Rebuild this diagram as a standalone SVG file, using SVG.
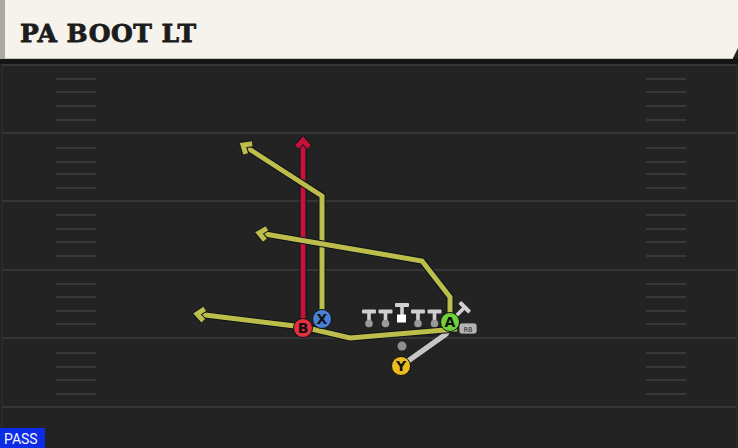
<svg xmlns="http://www.w3.org/2000/svg" width="738" height="448" viewBox="0 0 738 448">
<style>
.fl{stroke:#363636;stroke-width:2}
.hs{stroke:#383838;stroke-width:2}
.ol{fill:none;stroke:#0e1416;stroke-width:7;stroke-linejoin:miter;stroke-linecap:butt}
.yr{fill:none;stroke:#bdbd4c;stroke-width:5;stroke-linejoin:miter;stroke-linecap:butt}
.rr{fill:none;stroke:#c4123a;stroke-width:5;stroke-linecap:butt}
.gr{fill:none;stroke:#c6c6c6;stroke-width:5;stroke-linecap:round}
.lt{font-family:'DejaVu Sans',sans-serif;font-weight:bold;font-size:14px;fill:#111;text-anchor:middle}
.tb{fill:#cfcfcf}
.dot{fill:#9a9a9a}
</style>
<defs>
<marker id="ay" markerUnits="userSpaceOnUse" viewBox="-12 -10 16 20" markerWidth="16" markerHeight="20" refX="0" refY="0" orient="auto">
<path d="M-7,-6 L0,0 L-7,6" fill="none" stroke="#0e1416" stroke-width="7"/>
<path d="M-7,-6 L0,0 L-7,6" fill="none" stroke="#bdbd4c" stroke-width="5"/>
</marker>
<marker id="ar" markerUnits="userSpaceOnUse" viewBox="-12 -10 16 20" markerWidth="16" markerHeight="20" refX="0" refY="0" orient="auto">
<path d="M-7,-6 L0,0 L-7,6" fill="none" stroke="#0e1416" stroke-width="7"/>
<path d="M-7,-6 L0,0 L-7,6" fill="none" stroke="#c4123a" stroke-width="5"/>
</marker>
</defs>
<rect x="0" y="0" width="738" height="448" fill="#232323"/>
<rect x="0" y="58" width="738" height="6" fill="#151515"/>
<g id="field">
<line class="fl" x1="3" y1="65" x2="738" y2="65"/>
<line class="fl" x1="3" y1="133" x2="738" y2="133"/>
<line class="fl" x1="3" y1="201" x2="738" y2="201"/>
<line class="fl" x1="3" y1="270" x2="738" y2="270"/>
<line class="fl" x1="3" y1="338" x2="738" y2="338"/>
<line class="fl" x1="3" y1="407" x2="738" y2="407"/>
<line x1="2" y1="64" x2="2" y2="448" stroke="#2a2a2a" stroke-width="2"/>
<line x1="737" y1="64" x2="737" y2="448" stroke="#2a2a2a" stroke-width="2"/>
<g id="hashes-left">
<line class="hs" x1="56" y1="79" x2="96" y2="79"/><line class="hs" x1="56" y1="92" x2="96" y2="92"/><line class="hs" x1="56" y1="106" x2="96" y2="106"/><line class="hs" x1="56" y1="120" x2="96" y2="120"/>
<line class="hs" x1="56" y1="148" x2="96" y2="148"/><line class="hs" x1="56" y1="162" x2="96" y2="162"/><line class="hs" x1="56" y1="174" x2="96" y2="174"/><line class="hs" x1="56" y1="188" x2="96" y2="188"/>
<line class="hs" x1="56" y1="215" x2="96" y2="215"/><line class="hs" x1="56" y1="229" x2="96" y2="229"/><line class="hs" x1="56" y1="242" x2="96" y2="242"/><line class="hs" x1="56" y1="256" x2="96" y2="256"/>
<line class="hs" x1="56" y1="284" x2="96" y2="284"/><line class="hs" x1="56" y1="297" x2="96" y2="297"/><line class="hs" x1="56" y1="311" x2="96" y2="311"/><line class="hs" x1="56" y1="324" x2="96" y2="324"/>
<line class="hs" x1="56" y1="353" x2="96" y2="353"/><line class="hs" x1="56" y1="367" x2="96" y2="367"/><line class="hs" x1="56" y1="380" x2="96" y2="380"/><line class="hs" x1="56" y1="394" x2="96" y2="394"/>
</g>
<g id="hashes-right">
<line class="hs" x1="646" y1="79" x2="686" y2="79"/><line class="hs" x1="646" y1="92" x2="686" y2="92"/><line class="hs" x1="646" y1="106" x2="686" y2="106"/><line class="hs" x1="646" y1="120" x2="686" y2="120"/>
<line class="hs" x1="646" y1="148" x2="686" y2="148"/><line class="hs" x1="646" y1="162" x2="686" y2="162"/><line class="hs" x1="646" y1="174" x2="686" y2="174"/><line class="hs" x1="646" y1="188" x2="686" y2="188"/>
<line class="hs" x1="646" y1="215" x2="686" y2="215"/><line class="hs" x1="646" y1="229" x2="686" y2="229"/><line class="hs" x1="646" y1="242" x2="686" y2="242"/><line class="hs" x1="646" y1="256" x2="686" y2="256"/>
<line class="hs" x1="646" y1="284" x2="686" y2="284"/><line class="hs" x1="646" y1="297" x2="686" y2="297"/><line class="hs" x1="646" y1="311" x2="686" y2="311"/><line class="hs" x1="646" y1="324" x2="686" y2="324"/>
<line class="hs" x1="646" y1="353" x2="686" y2="353"/><line class="hs" x1="646" y1="367" x2="686" y2="367"/><line class="hs" x1="646" y1="380" x2="686" y2="380"/><line class="hs" x1="646" y1="394" x2="686" y2="394"/>
</g>
</g>
<g id="header">
<rect x="0" y="0" width="6" height="59" fill="#a9aaa6"/>
<path d="M5,0 H738 V48 L733,58 H5 Z" fill="#f6f3ec"/>
<line x1="5" y1="58.5" x2="733" y2="58.5" stroke="#c9c6bd" stroke-width="1"/>
<text x="20" y="42" font-family="'DejaVu Serif',serif" font-weight="bold" font-size="25" letter-spacing="0.5" fill="#1c1c1c" stroke="#1c1c1c" stroke-width="0.8">PA BOOT LT</text>
</g>
<g id="connectors">
<path class="gr" d="M401,366 L446,334 L450,326" stroke="#0e1416" stroke-width="7"/>
<path class="gr" d="M401,366 L446,334 L450,326"/>
<path class="ol" d="M457,329 L350,338 L303,327 L197,314"/>
<path class="yr" d="M457,329 L350,338 L303,327 L197,314" marker-end="url(#ay)"/>
<path class="ol" d="M303,328 V140"/>
<path class="rr" d="M303,328 V140" marker-end="url(#ar)"/>
<path class="ol" d="M322,319 V196 L243,145"/>
<path class="yr" d="M322,319 V196 L243,145" marker-end="url(#ay)"/>
<path class="ol" d="M450,322 V297 L422,261 L259,233"/>
<path class="yr" d="M450,322 V297 L422,261 L259,233" marker-end="url(#ay)"/>
</g>
<g id="linemen">
<g id="lt"><rect class="tb" x="362" y="309.5" width="14" height="4" rx="1"/><rect class="tb" x="367.2" y="312" width="3.6" height="10"/><circle class="dot" cx="369" cy="323.5" r="3.8"/></g>
<g id="lg"><rect class="tb" x="378.5" y="309.5" width="14" height="4" rx="1"/><rect class="tb" x="383.7" y="312" width="3.6" height="10"/><circle class="dot" cx="385.5" cy="323.5" r="3.8"/></g>
<g id="c"><rect class="tb" x="395" y="303" width="14" height="4" rx="1"/><rect class="tb" x="400.2" y="306" width="3.6" height="9"/><rect x="397" y="314.5" width="9" height="8" fill="#ffffff"/></g>
<g id="rg"><rect class="tb" x="411" y="309.5" width="14" height="4" rx="1"/><rect class="tb" x="416.2" y="312" width="3.6" height="10"/><circle class="dot" cx="418" cy="323.5" r="3.8"/></g>
<g id="rt"><rect class="tb" x="427.5" y="309.5" width="14" height="4" rx="1"/><rect class="tb" x="432.7" y="312" width="3.6" height="10"/><circle class="dot" cx="434.5" cy="323.5" r="3.8"/></g>
</g>
<g id="node-QB"><circle cx="402" cy="346" r="4.5" fill="#8e8e8e"/></g>
<g id="node-RB">
<g transform="translate(452,320) rotate(-45)"><rect x="0" y="-1.8" width="17" height="3.6" fill="#cfcfcf"/><rect x="16" y="-7" width="4" height="14" rx="1" fill="#cfcfcf"/></g>
<path d="M462,323 H474 Q477,323 477,326 V331 Q477,334 474,334 H462 Q459,334 459,331 V326 Q459,323 462,323 Z" fill="#b4b4b4" stroke="#2a2a2a" stroke-width="0.8"/>
<text x="468" y="331.5" font-family="'DejaVu Sans',sans-serif" font-size="6.5" fill="#222" text-anchor="middle">RB</text>
</g>
<g id="node-B"><circle cx="303" cy="328" r="9.5" fill="#e4303f" stroke="#111" stroke-width="1"/><text class="lt" x="303" y="333">B</text></g>
<g id="node-X"><circle cx="322" cy="319" r="9.5" fill="#4a7fd6" stroke="#111" stroke-width="1"/><text class="lt" x="322" y="324">X</text></g>
<g id="node-A"><circle cx="450" cy="322" r="9.5" fill="#6fd13a" stroke="#111" stroke-width="1"/><text class="lt" x="450" y="327">A</text></g>
<g id="node-Y"><circle cx="401" cy="366" r="9.5" fill="#ebbc22" stroke="#111" stroke-width="1"/><text class="lt" x="401" y="371">Y</text></g>
<g id="badge">
<rect x="0" y="428" width="45" height="20" fill="#0c2ce6"/>
<text x="4" y="444" font-family="Roboto,'Liberation Sans',sans-serif" font-size="14" fill="#f2f4ff">PASS</text>
</g>
</svg>
